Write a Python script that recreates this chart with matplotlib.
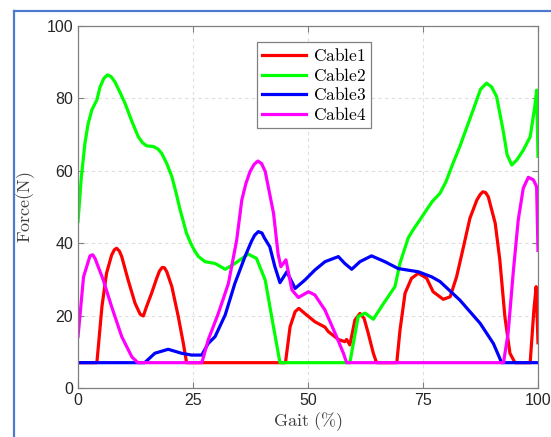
import matplotlib
matplotlib.use('Agg')
import matplotlib.pyplot as plt
from matplotlib.lines import Line2D

plt.rcParams['mathtext.fontset'] = 'cm'
plt.rcParams['font.family'] = ['Liberation Sans', 'DejaVu Sans']

# Cable forces (x = gait %, y = force N)
cable1_x = [0, 4.1, 4.6, 5.2, 6.2, 7.3, 7.9, 8.4, 9.0, 9.5, 10.9, 12.4, 13.5, 14.2, 14.9, 16.0, 17.1,
            17.7, 18.3, 18.8, 19.3, 20.4, 21.8, 22.9, 23.6, 45.1, 46.1, 47.2, 48.0, 49.3, 51.5,
            53.7, 54.4, 56.6, 58.0, 58.4, 59.1, 60.2, 61.3, 62.2, 63.1, 64.2, 64.9, 69.3, 70.0,
            71.1, 72.5, 74.0, 75.8, 77.2, 79.4, 80.9, 82.3, 83.8, 85.2, 86.7, 87.4, 88.0, 88.6,
            89.2, 90.7, 91.7, 92.8, 93.9, 95.0, 98.3, 99.1, 99.6, 100]
cable1_y = [7, 7, 14, 22.5, 31.7, 36.7, 38.2, 38.6, 37.8, 36.3, 29.8, 23.4, 20.4, 19.9, 22.5, 26.2, 30.3,
            32.3, 33.3, 33.2, 32.1, 28, 19.7, 12.3, 7, 7, 16.9, 21.1, 22, 20.6, 18.3,
            16.8, 15.6, 13.4, 12.8, 13.4, 11.9, 18.8, 20.6, 19.2, 15.1, 9.6, 7, 7, 16,
            26.2, 30.3, 31.7, 30.3, 26.6, 24.5, 25.2, 30.7, 39, 46.9, 51.9, 53.4, 54.2, 54,
            52.8, 45.5, 35.4, 19.7, 9.6, 7, 7, 21.5, 28, 12.5]

cable2_x = [0, 0.7, 1.5, 2.2, 3.0, 4.1, 4.8, 5.6, 6.4, 7.2, 8.0, 9.0, 10.2, 11.6, 13.1, 14.0, 14.9,
            16.4, 17.4, 18.2, 19.3, 20.4, 21.3, 22.2, 23.6, 24.5, 25.3, 26.2, 27.6, 29.8, 32.0,
            34.1, 37.0, 38.8, 40.7, 42.1, 43.9, 59.1, 60.9, 62.4, 64.2, 66.5, 68.9, 70.0, 71.8,
            73.0, 74.3, 75.4, 77.0, 78.7, 80.0, 81.5, 83.0, 85.9, 87.5, 88.8, 89.9, 91.0, 92.4,
            93.3, 94.3, 95.4, 96.8, 98.3, 99.3, 99.7, 100]
cable2_y = [46, 58, 67.6, 73, 76.8, 79.6, 83.2, 85.5, 86.5, 86, 84.6, 82, 78.7, 74, 69.4, 67.8, 66.9,
            66.7, 66, 64.8, 62, 58.4, 54, 49.2, 42.7, 40, 38, 36.3, 34.9, 34.4, 32.8,
            34.4, 37, 35.8, 29.8, 19.7, 7, 7, 19.7, 20.7, 19, 23.5, 28, 34.5, 41.5,
            44, 46.4, 48.5, 51.5, 53.8, 57, 62, 66.7, 76.8, 82.5, 84.2, 83.2, 80.5, 71.3,
            64.4, 61.6, 63, 65.7, 69.4, 77.7, 82.3, 64]

cable3_x = [0, 14.5, 16.7, 19.6, 22.5, 24.7, 26.9, 28.3, 29.8, 32.0, 34.1, 36.3, 37.7, 38.4, 39.2,
            40.0, 40.5, 41.7, 42.8, 43.9, 45.4, 47.2, 49.3, 51.5, 53.7, 56.6, 58.0, 59.5, 61.3,
            63.8, 66.7, 69.6, 74.0, 76.9, 78.7, 83.0, 87.4, 90.3, 92.1, 100]
cable3_y = [7, 7, 9.6, 10.7, 9.6, 9.1, 9.1, 12.3, 14.2, 20.2, 28.9, 36.3, 40.5, 42.2, 43.2,
            42.8, 41.5, 39, 33.5, 29.1, 32.1, 27.5, 29.8, 32.6, 34.9, 36.3, 34.4, 32.8, 34.9,
            36.5, 34.9, 33, 32.1, 30.7, 29.4, 24.3, 17.9, 12.3, 7, 7]

cable4_x = [0, 1.2, 2.6, 3.2, 3.7, 5.5, 7.3, 9.5, 11.7, 13.0, 26.9, 27.2, 28.3, 30.5, 32.7, 34.5,
            35.6, 36.5, 37.4, 38.3, 39.1, 39.9, 40.7, 42.5, 43.5, 44.1, 45.2, 46.5, 47.9, 50.1,
            51.5, 53.7, 55.9, 57.7, 58.4, 92.5, 93.5, 94.6, 95.7, 96.8, 97.9, 99.0, 99.7, 100]
cable4_y = [14.2, 30.7, 36.5, 36.8, 35.8, 29.8, 22.5, 14.2, 8.6, 7, 7, 8.2, 13.3, 20.6, 28.9, 40.9,
            51.9, 56.5, 59.8, 61.8, 62.7, 62, 59.8, 48.3, 37, 33.5, 35.4, 27.1, 25, 26.6,
            25.7, 21.5, 15.1, 9.6, 7, 7, 15.1, 31.7, 46.4, 55.2, 58.2, 57.5, 55.6, 38]

x_ticks = [0, 25, 50, 75, 100]
y_ticks = [0, 20, 40, 60, 80, 100]

fig = plt.figure(figsize=(5.51, 4.37), dpi=100)
ax = fig.add_axes([0.1416, 0.1121, 0.8348, 0.8284])

lw = 2.3
ax.plot(cable1_x, cable1_y, color='#ff0000', lw=lw, label=r'$\mathrm{Cable1}$')
ax.plot(cable2_x, cable2_y, color='#00ff00', lw=lw, label=r'$\mathrm{Cable2}$')
ax.plot(cable3_x, cable3_y, color='#0000ff', lw=lw, label=r'$\mathrm{Cable3}$')
ax.plot(cable4_x, cable4_y, color='#ff00ff', lw=lw, label=r'$\mathrm{Cable4}$')

ax.set_xlim(0, 100)
ax.set_ylim(0, 100)
ax.set_xticks(x_ticks)
ax.set_yticks(y_ticks)
ax.tick_params(direction='in', length=4, width=0.8, top=True, right=True,
               labelsize=11.5, colors='#808080', labelcolor='#262626')
for s in ax.spines.values():
    s.set_color('#808080')
    s.set_linewidth(0.9)
ax.grid(True, linestyle=(0, (3, 3)), color='#dedede', linewidth=0.8)

ax.set_xlabel(r'$\mathrm{Gait\ (\%)}$', fontsize=13, color='#404040', labelpad=2)
ax.set_ylabel(r'$\mathrm{Force(N)}$', fontsize=13, color='#404040', labelpad=7)

leg = ax.legend(loc='upper left', bbox_to_anchor=(0.389, 0.956), borderaxespad=0,
                fancybox=False, framealpha=1, edgecolor='#808080', fontsize=12.5,
                handlelength=2.5, handletextpad=0.4, labelspacing=0.15, borderpad=0.3)
leg.get_frame().set_linewidth(0.9)

# blue screenshot frame
fig.add_artist(Line2D([14 / 551, 14 / 551], [0, 1 - 11 / 437], color='#4a7bd0', lw=1.6,
                      transform=fig.transFigure))
fig.add_artist(Line2D([14 / 551, 1], [1 - 11 / 437, 1 - 11 / 437], color='#4a7bd0', lw=1.6,
                      transform=fig.transFigure))

fig.savefig('out.png', dpi=100)
